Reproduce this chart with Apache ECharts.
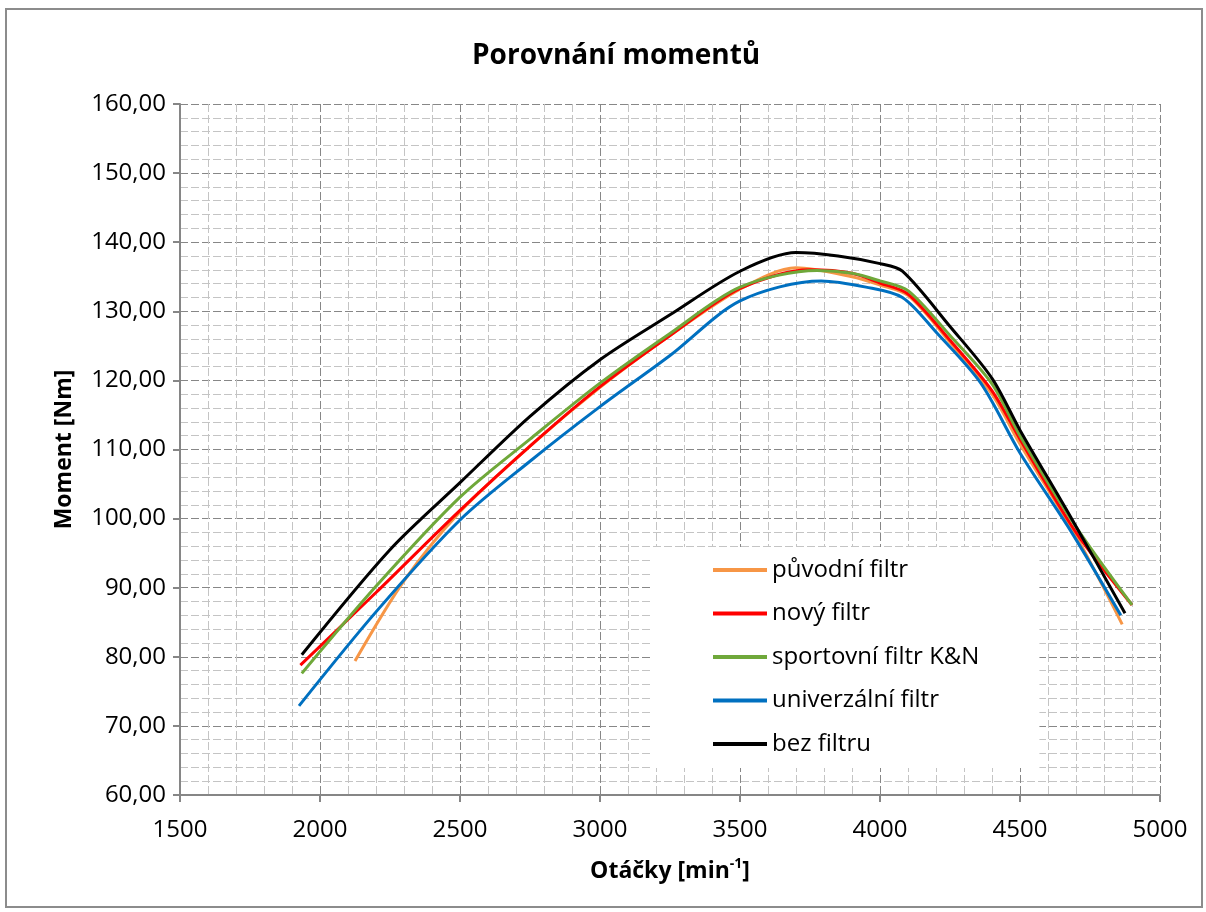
<!DOCTYPE html>
<html>
<head>
<meta charset="utf-8">
<script src="https://cdn.jsdelivr.net/npm/echarts@6/dist/echarts.min.js"></script>
<style>
  html, body { margin: 0; padding: 0; background: #fff; }
  #chart { width: 1206px; height: 912px; }
</style>
</head>
<body>
<div id="chart"></div>
<script>
  // otáčky [min-1] a moment [Nm] pro jednotlivé filtry
  var puvodniRpm = [2125, 2300, 2500, 2750, 3000, 3250, 3500, 3700, 3900, 4000, 4100, 4250, 4400, 4500, 4700, 4865];
  var puvodniNm  = [79.4, 91.0, 101.0, 110.5, 119.0, 126.5, 133.2, 136.3, 135.0, 133.8, 132.3, 125.5, 118.0, 110.8, 97.5, 84.7];

  var novyRpm = [1930, 2200, 2500, 2750, 3000, 3250, 3500, 3750, 3900, 4000, 4100, 4250, 4400, 4500, 4700, 4900];
  var novyNm  = [78.8, 89.3, 101.2, 110.5, 119.1, 126.5, 133.3, 136.0, 135.5, 134.1, 132.5, 125.8, 118.5, 111.5, 98.0, 87.5];

  var sportRpm = [1935, 2200, 2500, 2750, 3000, 3250, 3500, 3775, 3900, 4000, 4100, 4250, 4400, 4500, 4700, 4900];
  var sportNm  = [77.6, 90.2, 103.1, 111.5, 119.6, 126.8, 133.5, 135.9, 135.5, 134.4, 133.0, 126.5, 119.5, 112.0, 98.8, 87.5];

  var univRpm = [1925, 2200, 2500, 2750, 3000, 3250, 3500, 3790, 3950, 4080, 4200, 4360, 4500, 4680, 4860];
  var univNm  = [72.9, 86.5, 99.8, 108.3, 116.2, 123.6, 131.5, 134.4, 133.5, 132.0, 127.0, 119.6, 109.5, 98.3, 86.0];

  var bezRpm = [1935, 2250, 2500, 2750, 3000, 3250, 3500, 3700, 3850, 4000, 4080, 4250, 4400, 4500, 4680, 4875];
  var bezNm  = [80.3, 95.5, 105.2, 114.8, 123.0, 129.5, 135.8, 138.5, 138.0, 136.9, 135.8, 127.8, 120.3, 112.8, 100.3, 86.3];

  var seriesNames  = ['původní filtr', 'nový filtr', 'sportovní filtr K&N', 'univerzální filtr', 'bez filtru'];
  var seriesColors = ['#f79646', '#ff0000', '#6fa83a', '#0070c0', '#000000'];
  var seriesRpm = [puvodniRpm, novyRpm, sportRpm, univRpm, bezRpm];
  var seriesNm  = [puvodniNm, novyNm, sportNm, univNm, bezNm];

  var font = '"Open Sans", sans-serif';

  function pairs(xs, ys) {
    return xs.map(function (x, i) { return [x, ys[i]]; });
  }

  var chart = echarts.init(document.getElementById('chart'));

  chart.setOption({
    backgroundColor: '#fff',
    animation: false,
    title: {
      text: 'Porovnání momentů',
      left: 472,
      top: 42,
      padding: 0,
      textStyle: { fontFamily: font, fontSize: 28, fontWeight: 'bold', color: '#000' }
    },
    graphic: [{
      type: 'rect',
      shape: { x: 6, y: 9, width: 1196, height: 898 },
      style: { fill: 'none', stroke: '#8c8c8c', lineWidth: 2 },
      silent: true
    }],
    grid: { left: 180, right: 46, top: 104, bottom: 117 },
    legend: {
      orient: 'vertical',
      left: 653,
      top: 547,
      padding: [11, 60, 12, 60],
      backgroundColor: '#fff',
      icon: 'rect',
      itemWidth: 54,
      itemHeight: 4,
      itemGap: 19.5,
      itemTextGap: 5,
      data: seriesNames,
      textStyle: { fontFamily: font, fontSize: 24, lineHeight: 24, color: '#000' }
    },
    xAxis: {
      type: 'value',
      min: 1500,
      max: 5000,
      interval: 500,
      name: '{b|Otáčky [min}{s|-1}{b|]}',
      nameLocation: 'middle',
      nameGap: 62,
      nameTextStyle: {
        rich: {
          b: { fontFamily: font, fontSize: 23, fontWeight: 'bold', color: '#000', lineHeight: 28 },
          s: { fontFamily: font, fontSize: 14, fontWeight: 'bold', color: '#000', verticalAlign: 'top', lineHeight: 22 }
        }
      },
      axisLine: { lineStyle: { color: '#868686', width: 2 } },
      axisTick: { show: true, length: 7, lineStyle: { color: '#868686', width: 2 } },
      axisLabel: {
        margin: 23,
        fontFamily: font,
        fontSize: 24,
        color: '#000',
        formatter: function (v) { return String(v); }
      },
      splitLine: { show: true, lineStyle: { color: '#878787', type: [8, 3], width: 1 } },
      minorTick: { show: false, splitNumber: 5 },
      minorSplitLine: { show: true, lineStyle: { color: '#c4c4c4', type: [8, 3], width: 1 } }
    },
    yAxis: {
      type: 'value',
      min: 60,
      max: 160,
      interval: 10,
      name: 'Moment [Nm]',
      nameLocation: 'middle',
      nameGap: 104,
      nameTextStyle: { fontFamily: font, fontSize: 23, fontWeight: 'bold', color: '#000' },
      axisLine: { show: true, lineStyle: { color: '#868686', width: 2 } },
      axisTick: { show: true, length: 7, lineStyle: { color: '#868686', width: 2 } },
      axisLabel: {
        margin: 14,
        fontFamily: font,
        fontSize: 24,
        color: '#000',
        formatter: function (v) { return v.toFixed(2).replace('.', ','); }
      },
      splitLine: { show: true, lineStyle: { color: '#878787', type: [8, 3], width: 1 } },
      minorTick: { show: false, splitNumber: 5 },
      minorSplitLine: { show: true, lineStyle: { color: '#c4c4c4', type: [8, 3], width: 1 } }
    },
    series: seriesNames.map(function (name, i) {
      return {
        name: name,
        type: 'line',
        data: pairs(seriesRpm[i], seriesNm[i]),
        smooth: 0.3,
        showSymbol: false,
        symbol: 'none',
        color: seriesColors[i],
        lineStyle: { color: seriesColors[i], width: 3 }
      };
    })
  });
</script>
</body>
</html>
